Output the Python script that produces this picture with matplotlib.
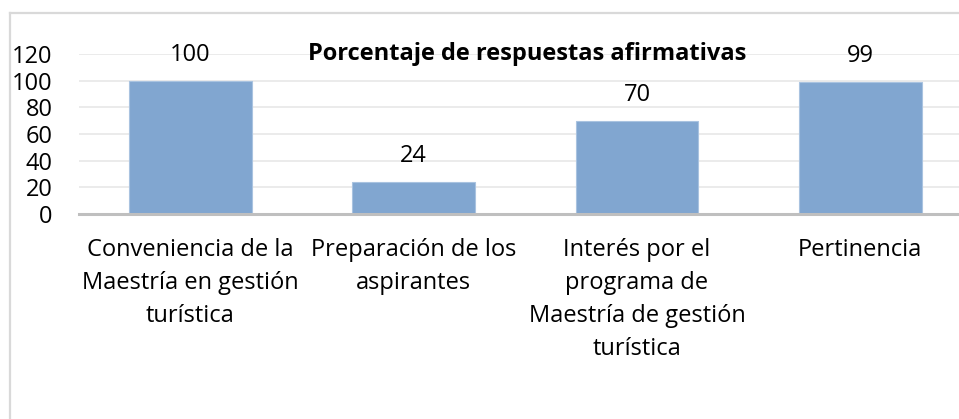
import matplotlib.pyplot as plt
from matplotlib.lines import Line2D

# ==========================
# DATA
# ==========================

categories = [
    "Conveniencia de la\nMaestría en gestión\nturística",
    "Preparación de los\naspirantes",
    "Interés por el\nprograma de\nMaestría de gestión\nturística",
    "Pertinencia",
]
values = [100, 24, 70, 99]
y_ticks = [0, 20, 40, 60, 80, 100, 120]

TITLE = "Porcentaje de respuestas afirmativas"
BAR_COLOR = "#81A6D0"
FS = 17

plt.rcParams["font.family"] = ["Open Sans", "DejaVu Sans"]

fig = plt.figure(figsize=(9.59, 4.19), dpi=100)

W, H = 959, 419
left_px, right_px = 78.8, 972.0
zero_px, top_px = 214.0, 54.0

ax = fig.add_axes([
    left_px / W,
    1 - zero_px / H,
    (right_px - left_px) / W,
    (zero_px - top_px) / H,
])

x = range(len(categories))
bars = ax.bar(x, values, width=0.55, color=BAR_COLOR,
              edgecolor="#A9C3E0", linewidth=0.8, zorder=3)

ax.set_xlim(-0.5, len(categories) - 0.5)
ax.set_ylim(0, 120)
ax.set_yticks(y_ticks)
ax.set_yticklabels([str(v) for v in y_ticks], fontsize=FS)
ax.set_xticks(list(x))
ax.set_xticklabels(categories, fontsize=FS, linespacing=1.5, va="top")

ax.tick_params(axis="y", length=0, pad=19)
ax.tick_params(axis="x", length=0, pad=17)

ax.grid(axis="y", color="#EBEBEB", linewidth=1.4, zorder=0)
for side in ["top", "right", "left"]:
    ax.spines[side].set_visible(False)
ax.spines["bottom"].set_color("#BFBFBF")
ax.spines["bottom"].set_linewidth(2.2)
ax.spines["bottom"].set_zorder(4)

for b, v in zip(bars, values):
    ax.annotate(str(v), (b.get_x() + b.get_width() / 2, v),
                xytext=(0, 18.5), textcoords="offset points",
                ha="center", va="center", fontsize=FS)

fig.text(527 / W, 1 - 54 / H, TITLE, ha="center", va="center",
         fontsize=FS, fontweight="bold")

# chart frame (cropped on right and bottom)
fig.add_artist(Line2D([10 / W, 10 / W], [0, 1 - 13 / H],
                      transform=fig.transFigure, color="#D9D9D9", lw=1.6))
fig.add_artist(Line2D([10 / W, 1], [1 - 13 / H, 1 - 13 / H],
                      transform=fig.transFigure, color="#D9D9D9", lw=1.6))

fig.savefig("out.png", dpi=100)
